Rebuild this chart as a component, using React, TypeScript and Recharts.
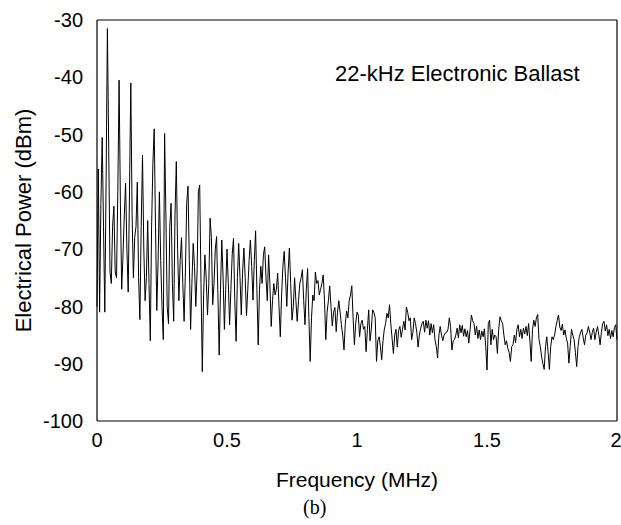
import React from 'react';
import { LineChart, Line, XAxis, YAxis } from 'recharts';

// spectrum analyser sweep, one reading every 5 kHz
const STEP_MHZ = 0.005;

// 0 – 0.495 MHz
const powerLow = [
  -80, -56, -81, -62, -50.5, -66, -81, -58, -31.5, -52,
  -74, -76, -66, -62.5, -74, -75, -60, -40.5, -62, -77,
  -71, -64, -58.5, -70, -77.5, -60, -41, -64, -75, -68,
  -66, -58.3, -75, -82.3, -66, -53.6, -70, -79, -75, -65,
  -76, -86, -66, -55, -49, -66, -80.7, -72, -60, -72,
  -80, -85.8, -49.8, -64, -80, -83, -66, -62, -76, -82.6,
  -64, -54.7, -70, -79, -72, -68, -76, -82.6, -74, -62,
  -59, -72, -84, -76, -69, -73, -80, -74, -60, -58.8,
  -76, -91.4, -78, -71, -75, -81.5, -76, -64.6, -68, -79.7,
  -76, -70, -67.8, -78, -88.5, -77, -68.4, -75, -84, -77,
];

// 0.5 – 0.995 MHz
const powerMid = [
  -70, -76, -83.2, -77, -71, -68.1, -79, -86.1, -75, -69,
  -75, -81.5, -74, -69.8, -75, -81.6, -77, -72, -68.4, -73,
  -78.9, -72, -66.8, -77, -86.7, -77, -73, -76, -71, -69.6,
  -75, -79, -71, -76, -83.5, -79, -76, -78, -77, -74.2,
  -80, -85.3, -78, -73, -70.4, -75, -80, -74, -69.8, -76,
  -82.4, -80, -75, -79, -82.6, -79, -76, -75, -73.6, -79,
  -83.2, -77, -73.4, -82, -89.6, -82, -78, -79, -74, -76,
  -75.5, -78, -77, -76, -74.5, -79, -85.8, -81, -79, -76.4,
  -80, -83.4, -81, -80.2, -84.4, -81, -79, -81, -83.2, -85,
  -87.6, -83, -80.8, -82, -79, -78, -76.4, -82, -86.7, -83,
];

// 1.0 – 1.495 MHz
const powerHigh = [
  -81, -81.5, -85.3, -83, -82.4, -84, -83.5, -87.9, -84, -80.6,
  -86, -84, -80.6, -81, -82, -89.6, -86, -85.3, -87, -89.3,
  -86, -84, -83, -81.2, -82, -79.7, -83, -85.6, -88.2, -85,
  -84, -87.1, -84.2, -83.5, -85.4, -84, -82.6, -84.1, -80.1, -81,
  -82.5, -82, -85.8, -84.5, -82, -83, -84.5, -87.1, -85, -83.8,
  -83, -82.6, -84.5, -82.4, -83.8, -82.5, -85, -83, -84.6, -83.2,
  -85.8, -87, -89, -85, -83.5, -85, -86, -85, -84.6, -84.5,
  -84, -82, -83.5, -87.6, -86, -85.8, -85, -83.8, -85.5, -83.2,
  -84.6, -83.3, -85.2, -83.9, -85.3, -84.2, -86.4, -84, -81.5, -82.5,
  -83, -85, -83.4, -85.6, -84.1, -85.8, -84.3, -85.3, -83.9, -87,
];

// 1.5 – 2.0 MHz
const powerTop = [
  -91.1, -83, -82.4, -86.7, -84, -85.8, -85, -85.3, -88.2, -84,
  -81.8, -82.5, -83, -85, -86.7, -86, -87.3, -88, -89.6, -87,
  -86.7, -85, -86.3, -84, -83.2, -85.3, -84, -85.6, -83.8, -84.8,
  -83.5, -85.1, -83, -86, -89.6, -84, -82.4, -83.5, -82, -81.4,
  -85.8, -87, -88.8, -90, -91, -87, -85.3, -88, -91, -87,
  -85.3, -85.8, -85, -83.5, -82.5, -81.5, -83.6, -84.2, -83.1, -85,
  -84.1, -85.6, -86.4, -89.9, -87, -84, -85, -85.8, -88, -90.5,
  -87, -85.3, -84.5, -84, -85.5, -86.7, -85, -84.6, -83.5, -84.5,
  -85.8, -84.5, -83.8, -85.8, -84.5, -83.5, -85, -86.7, -84.5, -83,
  -82.6, -84.3, -83.2, -85.1, -84, -85.6, -84.2, -85.3, -83.7, -83.2, -85.8,
];

const freqTicks = [0, 0.5, 1, 1.5, 2];
const powerTicks = [-100, -90, -80, -70, -60, -50, -40, -30];

const spectrum = [...powerLow, ...powerMid, ...powerHigh, ...powerTop].map((p, i) => ({
  f: Number((i * STEP_MHZ).toFixed(3)),
  p,
}));

const ink = '#000';
const sans = '"Liberation Sans", Arial, Helvetica, sans-serif';

export default function App() {
  return (
    <div style={{ position: 'absolute', left: 0, top: 0, width: 621, height: 525, background: '#fff', fontFamily: sans }}>
      <LineChart width={621} height={525} data={spectrum} margin={{ top: 20, right: 4, bottom: 74, left: 0 }}>
        {/* labelled axes */}
        <XAxis
          xAxisId="b"
          dataKey="f"
          type="number"
          domain={[0, 2]}
          ticks={freqTicks}
          tickLine={false}
          tickSize={0}
          tickMargin={12}
          height={30}
          axisLine={{ stroke: ink, strokeWidth: 1.2 }}
          tick={{ fill: ink, fontSize: 20 }}
          label={{ value: 'Frequency (MHz)', position: 'bottom', offset: 21, fill: ink, fontSize: 21 }}
        />
        <YAxis
          yAxisId="l"
          dataKey="p"
          type="number"
          domain={[-100, -30]}
          ticks={powerTicks}
          tickLine={false}
          tickSize={0}
          tickMargin={14}
          width={97}
          axisLine={{ stroke: ink, strokeWidth: 1.2 }}
          tick={{ fill: ink, fontSize: 20 }}
          label={{
            value: 'Electrical Power (dBm)',
            angle: -90,
            position: 'insideLeft',
            offset: 23,
            fill: ink,
            fontSize: 22,
            style: { textAnchor: 'middle' },
          }}
        />
        {/* inward ticks + frame */}
        <XAxis xAxisId="bi" dataKey="f" type="number" domain={[0, 2]} ticks={freqTicks} mirror tick={false} axisLine={false} tickSize={5} tickLine={{ stroke: ink }} />
        <XAxis xAxisId="t" orientation="top" dataKey="f" type="number" domain={[0, 2]} ticks={freqTicks} mirror tick={false} tickSize={5} axisLine={{ stroke: ink, strokeWidth: 1.2 }} tickLine={{ stroke: ink }} />
        <YAxis yAxisId="li" dataKey="p" type="number" domain={[-100, -30]} ticks={powerTicks} mirror tick={false} axisLine={false} tickSize={5} tickLine={{ stroke: ink }} />
        <YAxis yAxisId="r" orientation="right" dataKey="p" type="number" domain={[-100, -30]} ticks={powerTicks} mirror tick={false} tickSize={5} axisLine={{ stroke: ink, strokeWidth: 1.2 }} tickLine={{ stroke: ink }} />

        <Line
          xAxisId="b"
          yAxisId="l"
          dataKey="p"
          type="linear"
          stroke={ink}
          strokeWidth={1}
          dot={false}
          isAnimationActive={false}
        />
      </LineChart>

      <div style={{ position: 'absolute', left: 335, top: 61, fontSize: 22, color: ink, whiteSpace: 'nowrap' }}>
        22-kHz Electronic Ballast
      </div>
      <div style={{ position: 'absolute', left: 303, top: 496, fontSize: 20, color: ink, fontFamily: '"Liberation Serif", "Times New Roman", serif' }}>
        (b)
      </div>
    </div>
  );
}
